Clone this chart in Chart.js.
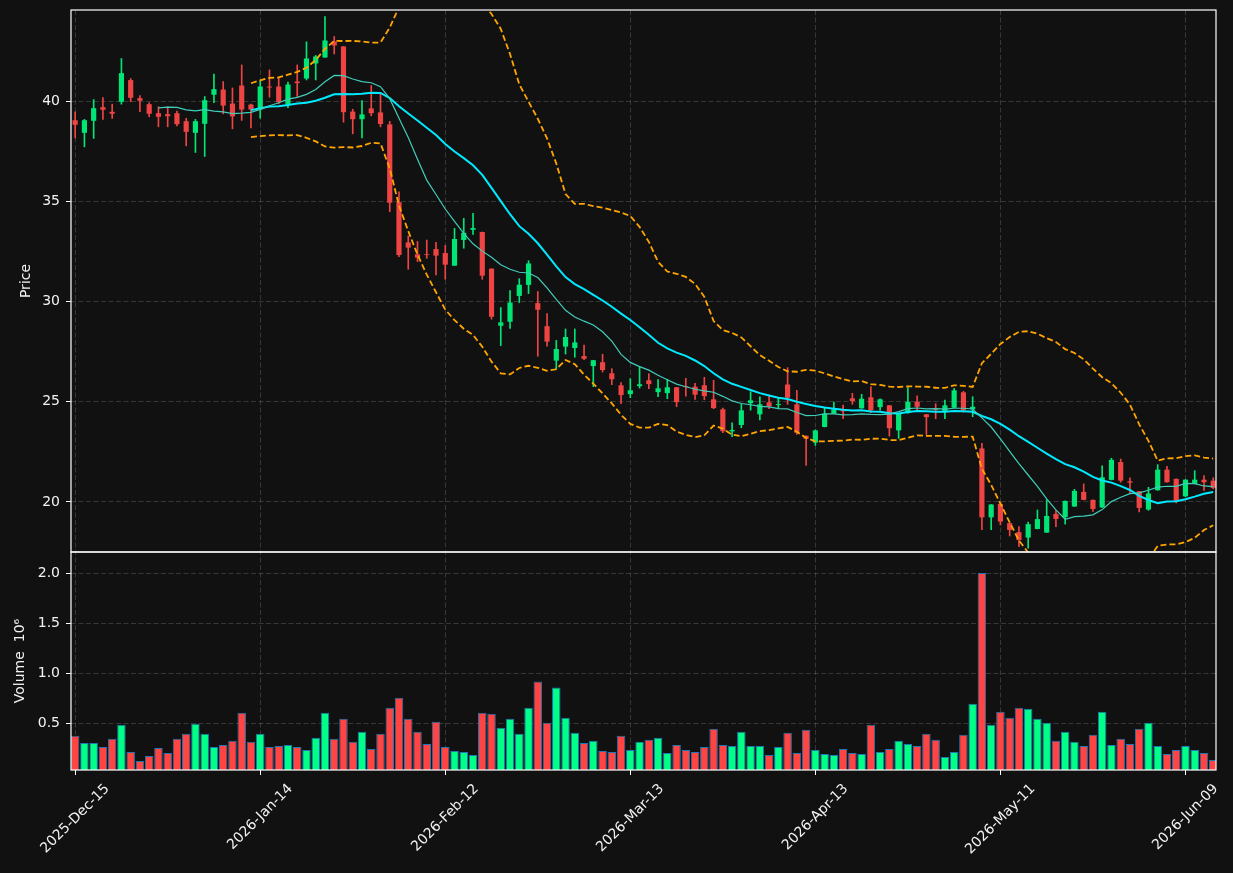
<!DOCTYPE html>
<html>
<head>
<meta charset="utf-8">
<script src="https://cdn.jsdelivr.net/npm/chart.js@4/dist/chart.umd.min.js"></script>
<style>
  html, body { margin: 0; padding: 0; background: #111111; }
  #wrap { width: 1233px; height: 873px; }
</style>
</head>
<body>
<div id="wrap"><canvas id="c" width="1233" height="873"></canvas></div>
<script>
// ---------------- data ----------------
const xTickIndex  = [0, 20, 40, 60, 80, 100, 120];
const xTickLabels = ['2025-Dec-15', '2026-Jan-14', '2026-Feb-12', '2026-Mar-13', '2026-Apr-13', '2026-May-11', '2026-Jun-09'];
const priceTicks  = [20, 25, 30, 35, 40];
const volumeTicks = [0.5, 1.0, 1.5, 2.0];

const open = [
  39.05, 38.42, 39.02, 39.70, 39.47, 39.97, 41.05, 40.15, 39.85, 39.40,
  39.35, 39.40, 39.00, 38.42, 38.87, 40.32, 40.58, 39.88, 40.78, 39.83,
  39.58, 40.73, 40.73, 39.83, 40.98, 41.13, 41.88, 42.18, 42.98, 42.73,
  39.48, 39.10, 39.64, 39.44, 38.84, 34.96, 32.95, 32.36, 32.36, 32.62,
  32.42, 31.79, 33.07, 33.58, 33.47, 31.64, 28.79, 28.99, 30.28, 30.83,
  29.92, 28.77, 27.05, 27.75, 27.68, 27.28, 26.78, 26.97, 26.42, 25.82,
  25.38, 25.78, 26.07, 25.48, 25.43, 25.72, 25.78, 25.75, 25.82, 25.12,
  24.62, 23.52, 23.84, 24.93, 24.37, 24.97, 24.83, 25.86, 24.87, 23.30,
  22.96, 23.74, 24.40, 24.58, 25.17, 24.67, 25.22, 24.73, 24.82, 23.57,
  24.43, 25.00, 24.37, 24.62, 24.53, 24.70, 25.47, 24.62, 22.67, 19.23,
  19.90, 18.94, 18.49, 18.22, 18.65, 18.47, 19.40, 19.24, 19.77, 20.50,
  20.10, 19.72, 21.10, 21.99, 21.03, 20.53, 19.62, 20.58, 21.61, 21.15,
  20.28, 20.90, 21.11, 21.06
];
const high = [
  39.47, 39.09, 40.08, 40.18, 39.85, 42.13, 41.13, 40.28, 39.92, 39.72,
  39.72, 39.50, 39.14, 39.09, 40.23, 41.35, 40.98, 40.66, 41.81, 39.85,
  41.00, 41.56, 41.20, 40.95, 41.81, 42.96, 42.28, 44.22, 43.23, 42.73,
  39.60, 40.03, 40.78, 40.36, 38.99, 35.47, 33.27, 33.00, 33.07, 32.95,
  32.80, 33.65, 34.15, 34.40, 33.47, 31.64, 29.70, 30.55, 31.14, 32.04,
  30.50, 29.40, 28.06, 28.63, 28.63, 27.83, 27.07, 27.37, 26.65, 25.95,
  26.15, 26.75, 26.40, 26.10, 26.12, 25.72, 26.17, 25.92, 26.22, 26.07,
  24.68, 23.95, 24.87, 25.50, 25.25, 25.28, 25.20, 26.70, 25.57, 23.30,
  23.60, 24.70, 24.98, 24.83, 25.42, 25.37, 25.75, 25.15, 24.82, 24.42,
  25.70, 25.30, 24.37, 24.90, 25.08, 25.67, 25.52, 25.25, 22.92, 19.87,
  19.98, 18.94, 18.77, 18.99, 19.60, 20.10, 19.57, 20.05, 20.63, 20.90,
  20.10, 21.80, 22.18, 22.14, 21.20, 20.53, 20.73, 21.86, 21.78, 21.15,
  21.11, 21.56, 21.31, 21.20
];
const low = [
  38.17, 37.72, 38.14, 39.09, 39.14, 39.85, 39.97, 39.47, 39.22, 38.72,
  38.72, 38.77, 37.77, 37.44, 37.24, 39.92, 39.37, 38.62, 39.04, 38.67,
  39.15, 40.20, 39.87, 39.67, 40.23, 41.06, 41.06, 42.18, 42.36, 38.95,
  38.37, 38.16, 39.27, 38.72, 34.48, 32.24, 31.61, 31.99, 32.16, 31.33,
  31.11, 31.79, 32.66, 33.35, 31.11, 29.12, 27.80, 28.66, 29.95, 30.40,
  27.27, 27.77, 26.64, 27.38, 27.22, 27.10, 25.75, 26.48, 25.85, 24.90,
  25.20, 25.68, 25.65, 25.25, 25.15, 24.75, 25.28, 25.12, 25.10, 24.65,
  23.45, 23.25, 23.70, 24.58, 24.09, 24.65, 24.65, 24.87, 23.37, 21.82,
  22.82, 23.74, 24.40, 24.15, 24.87, 24.67, 24.45, 24.58, 23.28, 23.17,
  24.43, 24.50, 23.37, 24.15, 24.15, 24.70, 24.48, 24.25, 18.62, 18.62,
  18.85, 18.30, 17.77, 17.69, 18.65, 18.47, 18.77, 18.89, 19.77, 20.10,
  19.52, 19.72, 21.10, 20.98, 20.45, 19.50, 19.58, 20.58, 20.98, 19.95,
  20.25, 20.90, 20.57, 20.66
];
const close = [
  38.82, 39.05, 39.65, 39.57, 39.37, 41.40, 40.17, 40.02, 39.37, 39.22,
  39.25, 38.85, 38.47, 39.00, 40.05, 40.60, 39.78, 39.24, 39.58, 39.58,
  40.73, 40.68, 39.95, 40.83, 40.90, 42.13, 42.23, 43.03, 42.78, 39.45,
  39.10, 39.34, 39.40, 38.86, 34.93, 32.32, 32.69, 32.19, 32.32, 32.29,
  31.84, 33.12, 33.43, 33.67, 31.29, 29.24, 28.96, 29.95, 30.84, 31.90,
  29.59, 28.00, 27.63, 28.23, 27.96, 27.14, 27.07, 26.58, 26.12, 25.33,
  25.57, 25.87, 25.88, 25.67, 25.72, 24.98, 25.73, 25.35, 25.28, 24.68,
  23.53, 23.59, 24.57, 25.07, 24.87, 24.77, 24.88, 25.20, 23.45, 23.15,
  23.57, 24.40, 24.62, 24.52, 25.03, 25.15, 24.57, 25.12, 23.68, 24.42,
  25.00, 24.75, 24.23, 24.58, 24.82, 25.57, 24.58, 24.75, 19.23, 19.87,
  19.02, 18.60, 18.10, 18.89, 19.14, 19.30, 19.15, 20.05, 20.55, 20.10,
  19.65, 21.23, 22.10, 21.06, 20.96, 19.70, 20.42, 21.61, 20.98, 20.03,
  21.11, 21.11, 20.98, 20.70
];
// volume in millions (axis shows x10^6)
const volume = [
  0.38, 0.31, 0.31, 0.27, 0.35, 0.49, 0.22, 0.13, 0.18, 0.26,
  0.21, 0.35, 0.40, 0.50, 0.40, 0.27, 0.29, 0.33, 0.61, 0.32,
  0.40, 0.27, 0.28, 0.29, 0.27, 0.24, 0.36, 0.61, 0.35, 0.55,
  0.32, 0.42, 0.25, 0.40, 0.66, 0.76, 0.55, 0.42, 0.30, 0.52,
  0.27, 0.23, 0.22, 0.19, 0.61, 0.60, 0.46, 0.55, 0.40, 0.66,
  0.92, 0.51, 0.86, 0.56, 0.41, 0.31, 0.33, 0.23, 0.22, 0.38,
  0.24, 0.32, 0.34, 0.36, 0.21, 0.29, 0.24, 0.22, 0.27, 0.45,
  0.29, 0.28, 0.42, 0.28, 0.28, 0.19, 0.27, 0.41, 0.21, 0.44,
  0.24, 0.20, 0.19, 0.25, 0.21, 0.20, 0.49, 0.22, 0.25, 0.33,
  0.30, 0.28, 0.40, 0.34, 0.17, 0.22, 0.39, 0.70, 2.00, 0.49,
  0.62, 0.56, 0.66, 0.65, 0.55, 0.51, 0.33, 0.42, 0.32, 0.28,
  0.39, 0.62, 0.29, 0.35, 0.30, 0.45, 0.51, 0.28, 0.20, 0.24,
  0.28, 0.24, 0.21, 0.14
];

// ---------------- styling ----------------
const BG = '#111111';
const TEXT = '#f2f2f2';
const GRID = 'rgba(128,128,128,0.38)';
const CANDLE_UP = '#00e676', CANDLE_DN = '#ef4444';
const VOL_UP = '#00ff88', VOL_DN = '#ff4444';
const FONT = 'DejaVu Sans';

// ---------------- derived indicators (from the close series) ----------------
function rollingMean(arr, n) {
  const pts = [];
  for (let i = n - 1; i < arr.length; i++) {
    let s = 0;
    for (let k = i - n + 1; k <= i; k++) s += arr[k];
    pts.push({ x: i, y: s / n });
  }
  return pts;
}
function bollinger(arr, n, m) {
  const up = [], dn = [];
  for (let i = n - 1; i < arr.length; i++) {
    let s = 0;
    for (let k = i - n + 1; k <= i; k++) s += arr[k];
    const mean = s / n;
    let v = 0;
    for (let k = i - n + 1; k <= i; k++) v += (arr[k] - mean) * (arr[k] - mean);
    const sd = Math.sqrt(v / (n - 1));
    up.push({ x: i, y: mean + m * sd });
    dn.push({ x: i, y: mean - m * sd });
  }
  return { up, dn };
}
const ma10 = rollingMean(close, 10);
const ma20 = rollingMean(close, 20);
const bb = bollinger(close, 20, 2);

const isUp = close.map((c, i) => c >= open[i]);
const bodyData = close.map((c, i) => ({ x: i, y: [open[i], c] }));
const wickData = close.map((c, i) => ({ x: i, y: [low[i], high[i]] }));
const volData = volume.map((v, i) => ({ x: i, y: v }));

// ---------------- plugins ----------------
const bgPlugin = {
  id: 'bg',
  beforeDraw(chart) {
    const ctx = chart.ctx;
    ctx.save();
    ctx.fillStyle = BG;
    ctx.fillRect(0, 0, chart.width, chart.height);
    ctx.restore();
  }
};
const panelClip = {
  id: 'panelClip',
  beforeDatasetDraw(chart, args) {
    const ds = chart.data.datasets[args.index];
    const ys = chart.scales[ds.yAxisID];
    const a = chart.chartArea;
    const ctx = chart.ctx;
    ctx.save();
    ctx.beginPath();
    ctx.rect(a.left, ys.top, a.right - a.left, ys.bottom - ys.top);
    ctx.clip();
  },
  afterDatasetDraw(chart) {
    chart.ctx.restore();
  }
};
const framePlugin = {
  id: 'frames',
  afterDraw(chart) {
    const ctx = chart.ctx;
    const a = chart.chartArea;
    const yp = chart.scales.y, yv = chart.scales.yv, xs = chart.scales.x;
    ctx.save();
    ctx.strokeStyle = '#ffffff';
    ctx.lineWidth = 1.2;
    ctx.strokeRect(a.left, yp.top, a.right - a.left, yp.bottom - yp.top);
    ctx.strokeRect(a.left, yv.top, a.right - a.left, yv.bottom - yv.top);
    // rotated date labels, centred on their ticks
    ctx.font = '14px "' + FONT + '"';
    ctx.fillStyle = TEXT;
    ctx.textAlign = 'center';
    ctx.textBaseline = 'middle';
    xTickIndex.forEach((v, k) => {
      const label = xTickLabels[k];
      const w = ctx.measureText(label).width;
      const h = 14 * 1.16;
      const half = (w + h) / (2 * Math.SQRT2);
      const x = xs.getPixelForValue(v);
      const y = a.bottom + 11 + half;
      ctx.save();
      ctx.translate(x, y);
      ctx.rotate(-Math.PI / 4);
      ctx.fillText(label, 0, 0);
      ctx.restore();
    });
    ctx.restore();
  }
};

// ---------------- chart ----------------
Chart.defaults.font.family = FONT;
Chart.defaults.font.size = 14;
Chart.defaults.color = TEXT;

const gridCommon = {
  color: GRID,
  lineWidth: 0.9,
  drawTicks: true,
  tickLength: 5,
  tickColor: '#ffffff',
  tickWidth: 1,
  tickBorderDash: [],
  offset: false
};
function fitY(s) { s.width = 71; s.paddingTop = 0; s.paddingBottom = 0; }

new Chart(document.getElementById('c'), {
  type: 'bar',
  data: {
    datasets: [
      { type: 'line', label: 'MA10', yAxisID: 'y', data: ma10, borderColor: '#40cdb9', borderWidth: 1.2, pointRadius: 0, tension: 0, order: 0 },
      { type: 'line', label: 'MA20', yAxisID: 'y', data: ma20, borderColor: '#00eaff', borderWidth: 2, pointRadius: 0, tension: 0, order: 0 },
      { type: 'line', label: 'BB upper', yAxisID: 'y', data: bb.up, borderColor: '#ffa500', borderWidth: 1.8, borderDash: [6, 3], pointRadius: 0, tension: 0, order: 0 },
      { type: 'line', label: 'BB lower', yAxisID: 'y', data: bb.dn, borderColor: '#ffa500', borderWidth: 1.8, borderDash: [6, 3], pointRadius: 0, tension: 0, order: 0 },
      { type: 'bar', label: 'Body', yAxisID: 'y', data: bodyData,
        backgroundColor: isUp.map(u => u ? CANDLE_UP : CANDLE_DN), borderWidth: 0,
        barPercentage: 0.56, categoryPercentage: 1, grouped: false, order: 1 },
      { type: 'bar', label: 'Wick', yAxisID: 'y', data: wickData,
        backgroundColor: isUp.map(u => u ? CANDLE_UP : CANDLE_DN), borderWidth: 0,
        barThickness: 1, grouped: false, order: 2 },
      { type: 'bar', label: 'Volume', yAxisID: 'yv', data: volData,
        backgroundColor: isUp.map(u => u ? VOL_UP : VOL_DN), borderColor: '#1f77b4', borderWidth: 1,
        barPercentage: 0.92, categoryPercentage: 1, grouped: false, order: 3 }
    ]
  },
  options: {
    responsive: false,
    animation: false,
    devicePixelRatio: 1,
    layout: { padding: { top: 10, right: 17, left: 0, bottom: 0 } },
    plugins: { legend: { display: false }, tooltip: { enabled: false } },
    scales: {
      x: {
        type: 'linear', position: 'bottom', min: -0.45, max: 123.3, offset: false,
        afterBuildTicks(s) { s.ticks = xTickIndex.map(v => ({ value: v })); },
        afterFit(s) { s.height = 103; },
        ticks: { display: false },
        grid: Object.assign({}, gridCommon),
        border: { display: false, dash: [5, 2.5] }
      },
      yv: {
        type: 'linear', position: 'left', stack: 'panels', stackWeight: 218,
        min: 0.04, max: 2.21,
        afterBuildTicks(s) { s.ticks = volumeTicks.map(v => ({ value: v })); },
        afterFit: fitY,
        ticks: { color: TEXT, padding: 6, callback: v => Number(v).toFixed(1) },
        grid: Object.assign({}, gridCommon),
        border: { display: false, dash: [5, 2.5] },
        title: { display: true, text: 'Volume  10\u2076', color: TEXT, font: { size: 14 }, padding: { top: 11.6, bottom: 0 } }
      },
      y: {
        type: 'linear', position: 'left', stack: 'panels', stackWeight: 542,
        min: 17.5, max: 44.55,
        afterBuildTicks(s) { s.ticks = priceTicks.map(v => ({ value: v })); },
        afterFit: fitY,
        ticks: { color: TEXT, padding: 6, callback: v => String(v) },
        grid: Object.assign({}, gridCommon),
        border: { display: false, dash: [5, 2.5] },
        title: { display: true, text: 'Price', color: TEXT, font: { size: 14 }, padding: { top: 17.6, bottom: 0 } }
      }
    }
  },
  plugins: [bgPlugin, panelClip, framePlugin]
});
</script>
</body>
</html>
